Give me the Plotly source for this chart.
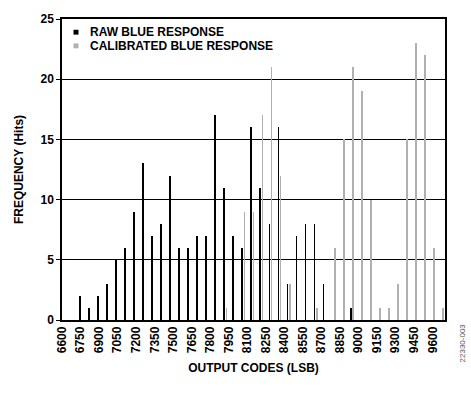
import plotly.graph_objects as go

# Data
raw_codes = [6745, 6818, 6891, 6964, 7037, 7110, 7183, 7256, 7329, 7402, 7475, 7548, 7621, 7694,
             7767, 7840, 7913, 7986, 8059, 8132, 8205, 8278, 8351, 8424, 8497, 8570, 8643, 8716, 8940]
raw_hits = [2, 1, 2, 3, 5, 6, 9, 13, 7, 8, 12, 6, 6, 7,
            7, 17, 11, 7, 6, 16, 11, 8, 16, 3, 7, 8, 8, 3, 1]

cal_codes = [7932, 8078, 8151, 8224, 8297, 8370, 8443, 8662, 8808, 8881, 8956, 9027, 9100,
             9173, 9246, 9319, 9392, 9467, 9540, 9612, 9686]
cal_hits = [1, 9, 9, 17, 21, 12, 3, 1, 6, 15, 21, 19, 10,
            1, 1, 3, 15, 23, 22, 6, 1]

x_ticks = list(range(6600, 9601, 150))
y_ticks = [0, 5, 10, 15, 20, 25]

legend_names = ["RAW BLUE RESPONSE", "CALIBRATED BLUE RESPONSE"]
raw_color = "#000000"
cal_color = "#b0b0b0"

FONT = "Liberation Sans, Arial, sans-serif"

W, H = 471, 397
ML, MR, MT, MB = 62, 26, 12, 77
PW = W - ML - MR
PH = H - MT - MB


def px(x):
    return (x - ML) / PW


def py(y):
    return (H - MB - y) / PH


fig = go.Figure()
fig.add_trace(go.Bar(x=raw_codes, y=raw_hits, width=5, marker=dict(color=raw_color, line=dict(width=0)),
                     name=legend_names[0], showlegend=False))
fig.add_trace(go.Bar(x=cal_codes, y=cal_hits, width=5, marker=dict(color=cal_color, line=dict(width=0)),
                     name=legend_names[1], showlegend=False))

# legend built from shapes and annotations
for i, (name, col) in enumerate(zip(legend_names, [raw_color, cal_color])):
    cy = 25.5 + i * 14
    fig.add_shape(type="rect", xref="paper", yref="paper",
                  x0=px(73.5), x1=px(78.5), y0=py(cy + 2.5), y1=py(cy - 2.5),
                  fillcolor=col, line=dict(width=0))
    fig.add_annotation(xref="paper", yref="paper", x=px(89), y=py(cy), xanchor="left", yanchor="middle",
                       text=name, showarrow=False, borderpad=0,
                       font=dict(family=FONT, size=12, color="#000", weight="bold"))

fig.add_annotation(xref="paper", yref="paper", x=px(462), y=py(344), xanchor="center", yanchor="middle",
                   text="22330-003", textangle=-90,
                   showarrow=False, font=dict(family=FONT, size=8, color="#555"))

fig.update_layout(
    width=W, height=H,
    margin=dict(l=ML, r=MR, t=MT, b=MB, pad=0),
    plot_bgcolor="white", paper_bgcolor="white",
    barmode="overlay", bargap=0,
    showlegend=False,
    font=dict(family=FONT, size=12, color="#000"),
    xaxis=dict(
        range=[6600, 9700], tickvals=x_ticks, ticktext=[str(v) for v in x_ticks], tickangle=-90,
        showgrid=False, zeroline=False, showline=True, linecolor="#000", linewidth=1.5, mirror=True,
        ticks="", tickfont=dict(family=FONT, size=12, color="#000", weight="bold"),
        title=dict(text="OUTPUT CODES (LSB)", font=dict(family=FONT, size=12, color="#000", weight="bold"),
                   standoff=11),
    ),
    yaxis=dict(
        range=[0, 25], tickvals=y_ticks, showgrid=True, gridcolor="#000", gridwidth=1,
        zeroline=False, showline=True, linecolor="#000", linewidth=1.5, mirror=True,
        ticks="outside", ticklen=4, tickcolor="#000", tickwidth=1,
        tickfont=dict(family=FONT, size=12, color="#000", weight="bold"),
        title=dict(text="FREQUENCY (Hits)", font=dict(family=FONT, size=12, color="#000", weight="bold"),
                   standoff=14),
    ),
)

fig.write_html("out.html")
